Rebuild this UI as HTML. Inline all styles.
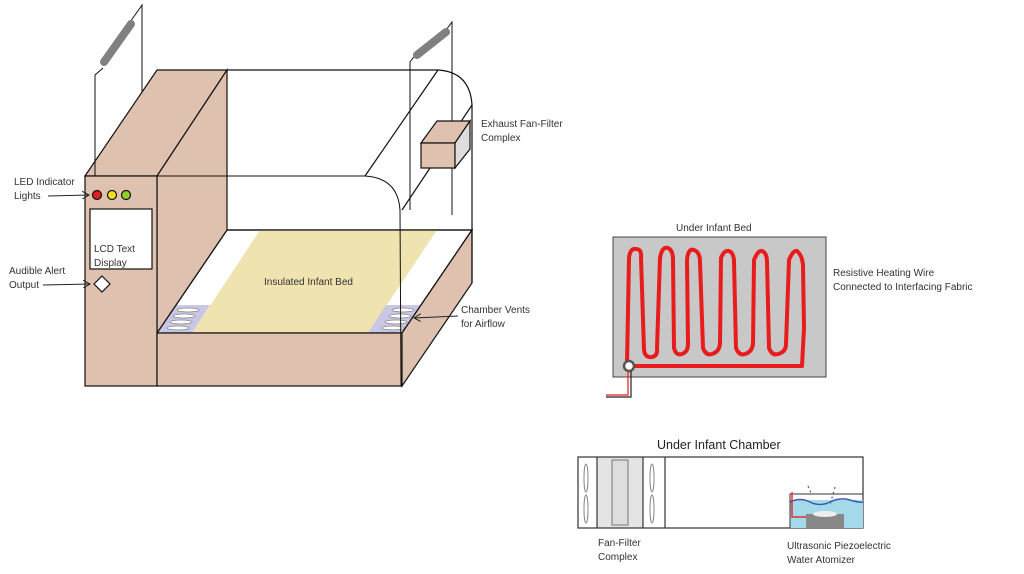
<!DOCTYPE html>
<html><head><meta charset="utf-8"><style>
body{margin:0;background:#fff;}
svg{display:block}
text{font-family:"Liberation Sans",sans-serif;font-size:10px;fill:#333}
</style></head><body>
<svg width="1024" height="574" viewBox="0 0 1024 574" xmlns="http://www.w3.org/2000/svg">
<defs><marker id="a" markerWidth="8" markerHeight="8" refX="7" refY="4" orient="auto"><path d="M0,0 L7,4 L0,8" fill="none" stroke="#222" stroke-width="1"/></marker></defs>
<g stroke="#111" stroke-width="1.2">
<polygon points="157,333 227,230 472,230 402,333" fill="#fff"/>
<polygon points="192,333 260,230 437,230 368,333" fill="#efe3b0" stroke="none"/>
<polygon points="157,333 175,305 210,305 192,333" fill="#c9c6e6" stroke="none"/>
<polygon points="368,333 386,305 420,305 402,333" fill="#c9c6e6" stroke="none"/>
<g fill="#fff" stroke="#888" stroke-width="0.8">
<ellipse cx="188" cy="310" rx="11" ry="2"/><ellipse cx="184" cy="316" rx="11" ry="2"/><ellipse cx="181" cy="322" rx="11" ry="2"/><ellipse cx="178" cy="328" rx="11" ry="2"/>
<ellipse cx="403" cy="310" rx="11" ry="2"/><ellipse cx="400" cy="316" rx="11" ry="2"/><ellipse cx="396" cy="322" rx="11" ry="2"/><ellipse cx="393" cy="328" rx="11" ry="2"/>
</g>
<polygon points="157,333 227,230 472,230 402,333" fill="none"/>
<polygon points="85,176 157,70 227,70 157,176" fill="#dfc1b0"/>
<polygon points="157,176 227,70 227,230 157,333" fill="#dfc1b0"/>
<rect x="85" y="176" width="72" height="210" fill="#dfc1b0"/>
<rect x="157" y="333" width="245" height="53" fill="#dfc1b0"/>
<polygon points="402,333 472,230 472,283 402,386" fill="#dfc1b0"/>
<g fill="none">
<path d="M227,70 L438,70 Q470,72 472,105 L472,283"/>
<path d="M157,176 L365,176 Q398,178 400,210 L401,386" stroke-width="1"/>
<path d="M438,70 L365,176"/>
<path d="M472,105 L402,210"/>
<path d="M95,176 L95,75 L103,68 M130,22 L140,8 L142,5 L142,92" stroke-width="1"/>
<path d="M410,210 L410,62 L416,54 M446,30 L452,22 L452,215" stroke-width="1"/>
</g>
<line x1="104" y1="62" x2="131" y2="24" stroke="#808080" stroke-width="8" stroke-linecap="round"/>
<line x1="417" y1="55" x2="446" y2="32" stroke="#808080" stroke-width="8" stroke-linecap="round"/>
<polygon points="421,143 437,121 470,121 455,143" fill="#dfc1b0"/>
<rect x="421" y="143" width="34" height="25" fill="#dfc1b0"/>
<polygon points="455,143 470,121 470,149 455,168" fill="#ddd"/>
<circle cx="97" cy="195" r="4.5" fill="#e02020"/>
<circle cx="112" cy="195" r="4.5" fill="#f0e020"/>
<circle cx="126" cy="195" r="4.5" fill="#90d020"/>
<rect x="90" y="209" width="62" height="60" fill="#fff"/>
<polygon points="102,276 110,284 102,292 94,284" fill="#fff"/>
</g>
<g stroke="#222" stroke-width="1" fill="none">
<line x1="48" y1="196" x2="89" y2="195" marker-end="url(#a)"/>
<line x1="43" y1="285" x2="90" y2="284" marker-end="url(#a)"/>
<line x1="458" y1="316" x2="414" y2="318" marker-end="url(#a)"/>
</g>
<text x="14" y="185">LED Indicator</text><text x="14" y="199">Lights</text>
<text x="9" y="274">Audible Alert</text><text x="9" y="288">Output</text>
<text x="94" y="252">LCD Text</text><text x="94" y="266">Display</text>
<text x="264" y="285">Insulated Infant Bed</text>
<text x="481" y="127">Exhaust Fan-Filter</text><text x="481" y="141">Complex</text>
<text x="461" y="313">Chamber Vents</text><text x="461" y="327">for Airflow</text>
<text x="676" y="231">Under Infant Bed</text>
<rect x="613" y="237" width="213" height="140" fill="#c8c8c8" stroke="#444" stroke-width="1"/>
<path d="M627,364 L629,258 Q630,248 636,249 Q642,249 641,258 L644,350 Q645,358 652,357 Q658,356 657,348 L660,258 Q662,246 668,248 Q673,250 673,260 L674,348 Q676,356 682,354 Q688,352 688,344 L687,260 Q688,248 694,250 Q700,252 700,262 L703,348 Q706,356 712,354 Q719,352 720,344 L721,258 Q724,250 729,251 Q734,253 734,262 L736,348 Q739,356 745,354 Q752,352 753,344 L754,260 Q758,250 762,251 Q767,253 767,262 L769,348 Q772,356 778,354 Q786,352 786,344 L789,260 Q793,250 797,251 Q802,255 803,265 L804,328 L802,366 L629,366" fill="none" stroke="#e81c1c" stroke-width="4" stroke-linejoin="round"/>
<circle cx="629" cy="366" r="5" fill="#fff" stroke="#555" stroke-width="2.5"/>
<path d="M631,371 L631,397 L606,397" fill="none" stroke="#222" stroke-width="1.2"/>
<path d="M628,371 L628,395 L606,395" fill="none" stroke="#e81c1c" stroke-width="1.2"/>
<text x="833" y="276">Resistive Heating Wire</text><text x="833" y="290">Connected to Interfacing Fabric</text>
<text x="657" y="449" style="font-size:12.5px;fill:#222">Under Infant Chamber</text>
<rect x="597" y="457" width="46" height="71" fill="#e4e4e4"/>
<rect x="612" y="460" width="16" height="65" fill="#ddd" stroke="#777" stroke-width="1"/>
<g stroke="#333" stroke-width="1.2" fill="none">
<rect x="578" y="457" width="285" height="71"/>
<line x1="597" y1="457" x2="597" y2="528"/><line x1="643" y1="457" x2="643" y2="528"/><line x1="665" y1="457" x2="665" y2="528"/>
</g>
<g fill="none" stroke="#888" stroke-width="1">
<ellipse cx="586" cy="478" rx="2" ry="14"/><ellipse cx="586" cy="509" rx="2" ry="14"/>
<ellipse cx="652" cy="478" rx="2" ry="14"/><ellipse cx="652" cy="509" rx="2" ry="14"/>
</g>
<rect x="790" y="500" width="73" height="28" fill="#a3d9e8"/>
<path d="M790,502 Q800,497 810,502 T830,502 T850,500 T863,502" fill="none" stroke="#3a5bb0" stroke-width="1.5"/>
<path d="M790,528 L790,494 L863,494" fill="none" stroke="#333" stroke-width="1"/>
<path d="M792,492 L792,517 L806,517" fill="none" stroke="#e03030" stroke-width="1.5"/>
<rect x="806" y="514" width="38" height="14" fill="#888"/>
<ellipse cx="825" cy="514" rx="12" ry="3" fill="#eee"/>
<g stroke="#3a5bb0" stroke-width="1.2" stroke-dasharray="2,3"><line x1="808" y1="486" x2="812" y2="495"/><line x1="835" y1="487" x2="830" y2="505"/></g>
<text x="598" y="546">Fan-Filter</text><text x="598" y="560">Complex</text>
<text x="787" y="549">Ultrasonic Piezoelectric</text><text x="787" y="563">Water Atomizer</text>
</svg>
</body></html>
